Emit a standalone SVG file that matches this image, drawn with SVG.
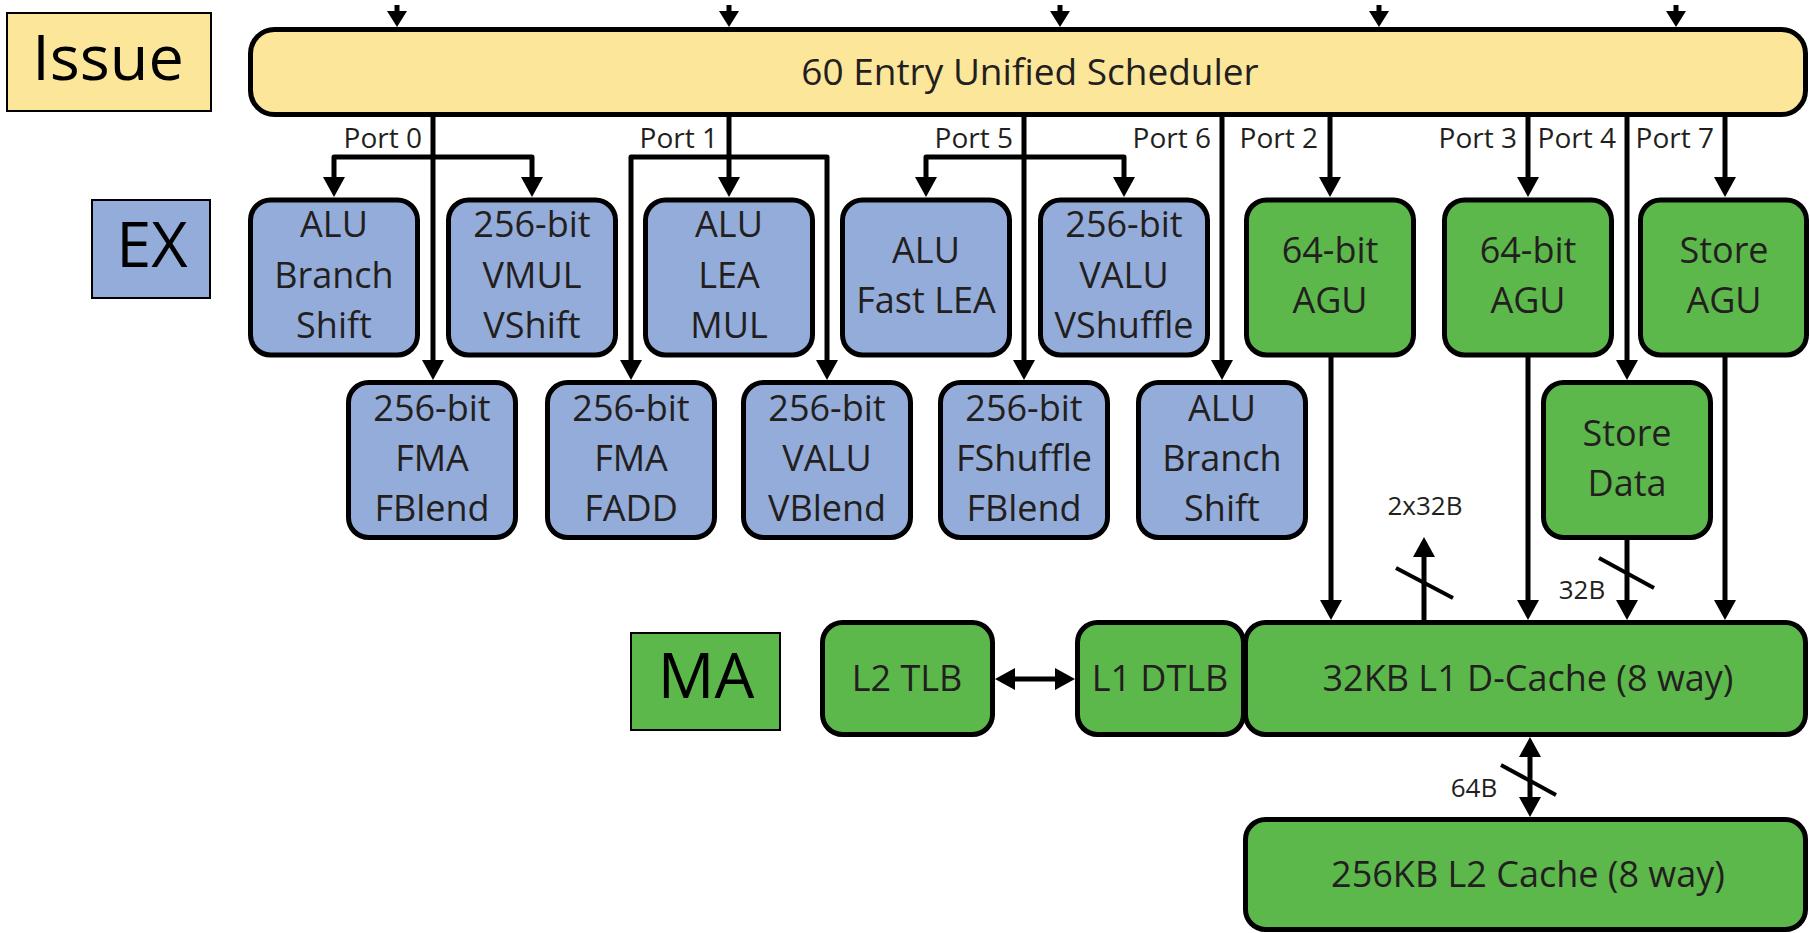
<svg xmlns="http://www.w3.org/2000/svg" width="1810" height="933" viewBox="0 0 1810 933">
<defs>
<style>
.lbl{stroke:#000;stroke-width:2}
.node{stroke:#000;stroke-width:5}
.y{fill:#FCE69A}
.b{fill:#93ACDA}
.g{fill:#5CB84B}
text{font-family:"Open Sans","Noto Sans","Liberation Sans",sans-serif;fill:#231f20;text-anchor:middle}
.big{font-size:63px;fill:#000}
.t{font-size:36px}
.p{font-size:28px;text-anchor:end}
.s{font-size:26px}
.c{stroke:#000;stroke-width:5;fill:none;stroke-linejoin:round}
.sl{stroke:#000;stroke-width:4;fill:none}
</style>
<marker id="ah" viewBox="0 0 20 22" refX="8" refY="11" markerWidth="20" markerHeight="22" markerUnits="userSpaceOnUse" orient="auto-start-reverse">
<path d="M0,0 L20,11 L0,22 z" fill="#000"/>
</marker>
<marker id="sh" viewBox="0 0 16 20" refX="3" refY="10" markerWidth="16" markerHeight="20" markerUnits="userSpaceOnUse" orient="auto">
<path d="M0,0 L16,10 L0,20 z" fill="#000"/>
</marker>
</defs>

<g id="stage-labels">
<g id="issue-label"><rect class="lbl y" x="7" y="13" width="204" height="98"/><text class="big" x="108" y="80">Issue</text></g>
<g id="ex-label"><rect class="lbl b" x="92" y="200" width="118" height="98"/><text class="big" x="152" y="267">EX</text></g>
<g id="ma-label"><rect class="lbl g" x="631" y="633" width="149" height="97"/><text class="big" x="706" y="698">MA</text></g>
</g>

<g id="connectors">
<!-- inputs to scheduler -->
<path class="c" d="M397,5 V14" marker-end="url(#sh)"/>
<path class="c" d="M729,5 V14" marker-end="url(#sh)"/>
<path class="c" d="M1060,5 V14" marker-end="url(#sh)"/>
<path class="c" d="M1379,5 V14" marker-end="url(#sh)"/>
<path class="c" d="M1676,5 V14" marker-end="url(#sh)"/>
<!-- Port 0 -->
<path class="c" d="M433,115 V368" marker-end="url(#ah)"/>
<path class="c" d="M433,157 H334 V185" marker-end="url(#ah)"/>
<path class="c" d="M433,157 H532 V185" marker-end="url(#ah)"/>
<!-- Port 1 -->
<path class="c" d="M729,115 V185" marker-end="url(#ah)"/>
<path class="c" d="M729,157 H631 V368" marker-end="url(#ah)"/>
<path class="c" d="M729,157 H827 V368" marker-end="url(#ah)"/>
<!-- Port 5 -->
<path class="c" d="M1024,115 V368" marker-end="url(#ah)"/>
<path class="c" d="M1024,157 H926 V185" marker-end="url(#ah)"/>
<path class="c" d="M1024,157 H1124 V185" marker-end="url(#ah)"/>
<!-- Port 6 -->
<path class="c" d="M1222,115 V368" marker-end="url(#ah)"/>
<!-- Port 2,3,4,7 -->
<path class="c" d="M1330,115 V185" marker-end="url(#ah)"/>
<path class="c" d="M1528,115 V185" marker-end="url(#ah)"/>
<path class="c" d="M1627,115 V368" marker-end="url(#ah)"/>
<path class="c" d="M1725,115 V185" marker-end="url(#ah)"/>
<!-- to L1 D-Cache -->
<path class="c" d="M1331,357 V608" marker-end="url(#ah)"/>
<path class="c" d="M1424,621 V549" marker-end="url(#ah)"/>
<path class="c" d="M1528,357 V608" marker-end="url(#ah)"/>
<path class="c" d="M1627,540 V608" marker-end="url(#ah)"/>
<path class="c" d="M1725,357 V608" marker-end="url(#ah)"/>
<!-- TLB -->
<path class="c" d="M1007,679 H1063" marker-start="url(#ah)" marker-end="url(#ah)"/>
<!-- L1 to L2 -->
<path class="c" d="M1530,749 V805" marker-start="url(#ah)" marker-end="url(#ah)"/>
<!-- bus width slashes -->
<path class="sl" d="M1396,568 L1453,598"/>
<path class="sl" d="M1599,558 L1654,588"/>
<path class="sl" d="M1501,765 L1556,795"/>
<text class="s" x="1425" y="515">2x32B</text>
<text class="s" x="1582" y="599">32B</text>
<text class="s" x="1474" y="797">64B</text>
<!-- port labels -->
<text class="p" x="422" y="148">Port 0</text>
<text class="p" x="718" y="148">Port 1</text>
<text class="p" x="1013" y="148">Port 5</text>
<text class="p" x="1211" y="148">Port 6</text>
<text class="p" x="1318" y="148">Port 2</text>
<text class="p" x="1517" y="148">Port 3</text>
<text class="p" x="1616" y="148">Port 4</text>
<text class="p" x="1714" y="148">Port 7</text>
</g>

<g id="scheduler"><rect class="node y" x="250.5" y="29.5" width="1555" height="85" rx="24"/><text style="font-size:37px" x="1030" y="85">60 Entry Unified Scheduler</text></g>

<g id="alu-branch-shift-0"><rect class="node b" x="250.5" y="200" width="167" height="155" rx="20"/><text class="t" x="334" y="237">ALU</text><text class="t" x="334" y="288">Branch</text><text class="t" x="334" y="338">Shift</text></g>
<g id="vmul-vshift"><rect class="node b" x="448.5" y="200" width="167" height="155" rx="20"/><text class="t" x="532" y="237">256-bit</text><text class="t" x="532" y="288">VMUL</text><text class="t" x="532" y="338">VShift</text></g>
<g id="alu-lea-mul"><rect class="node b" x="645.5" y="200" width="167" height="155" rx="20"/><text class="t" x="729" y="237">ALU</text><text class="t" x="729" y="288">LEA</text><text class="t" x="729" y="338">MUL</text></g>
<g id="alu-fast-lea"><rect class="node b" x="842.5" y="200" width="167" height="155" rx="20"/><text class="t" x="926" y="263">ALU</text><text class="t" x="926" y="313">Fast LEA</text></g>
<g id="valu-vshuffle"><rect class="node b" x="1040.5" y="200" width="167" height="155" rx="20"/><text class="t" x="1124" y="237">256-bit</text><text class="t" x="1124" y="288">VALU</text><text class="t" x="1124" y="338">VShuffle</text></g>
<g id="agu-port2"><rect class="node g" x="1246.5" y="200" width="167" height="155" rx="20"/><text class="t" x="1330" y="263">64-bit</text><text class="t" x="1330" y="313">AGU</text></g>
<g id="agu-port3"><rect class="node g" x="1444.5" y="200" width="167" height="155" rx="20"/><text class="t" x="1528" y="263">64-bit</text><text class="t" x="1528" y="313">AGU</text></g>
<g id="store-agu"><rect class="node g" x="1640.5" y="200" width="166" height="155" rx="20"/><text class="t" x="1724" y="263">Store</text><text class="t" x="1724" y="313">AGU</text></g>

<g id="fma-fblend"><rect class="node b" x="348.5" y="382.5" width="167" height="155" rx="20"/><text class="t" x="432" y="421">256-bit</text><text class="t" x="432" y="471">FMA</text><text class="t" x="432" y="521">FBlend</text></g>
<g id="fma-fadd"><rect class="node b" x="547.5" y="382.5" width="167" height="155" rx="20"/><text class="t" x="631" y="421">256-bit</text><text class="t" x="631" y="471">FMA</text><text class="t" x="631" y="521">FADD</text></g>
<g id="valu-vblend"><rect class="node b" x="743.5" y="382.5" width="167" height="155" rx="20"/><text class="t" x="827" y="421">256-bit</text><text class="t" x="827" y="471">VALU</text><text class="t" x="827" y="521">VBlend</text></g>
<g id="fshuffle-fblend"><rect class="node b" x="940.5" y="382.5" width="167" height="155" rx="20"/><text class="t" x="1024" y="421">256-bit</text><text class="t" x="1024" y="471">FShuffle</text><text class="t" x="1024" y="521">FBlend</text></g>
<g id="alu-branch-shift-6"><rect class="node b" x="1138.5" y="382.5" width="167" height="155" rx="20"/><text class="t" x="1222" y="421">ALU</text><text class="t" x="1222" y="471">Branch</text><text class="t" x="1222" y="521">Shift</text></g>
<g id="store-data"><rect class="node g" x="1543.5" y="382.5" width="167" height="155" rx="20"/><text class="t" x="1627" y="446">Store</text><text class="t" x="1627" y="496">Data</text></g>

<g id="l2-tlb"><rect class="node g" x="822.5" y="622.5" width="170" height="112" rx="20"/><text class="t" x="907" y="691">L2 TLB</text></g>
<g id="l1-dtlb"><rect class="node g" x="1077.5" y="622.5" width="166" height="112" rx="20"/><text class="t" x="1160" y="691">L1 DTLB</text></g>
<g id="l1-dcache"><rect class="node g" x="1245.5" y="622.5" width="560" height="112" rx="20"/><text class="t" x="1528" y="691">32KB L1 D-Cache (8 way)</text></g>
<g id="l2-cache"><rect class="node g" x="1245.5" y="819.5" width="560" height="110" rx="20"/><text class="t" x="1528" y="887">256KB L2 Cache (8 way)</text></g>
</svg>
